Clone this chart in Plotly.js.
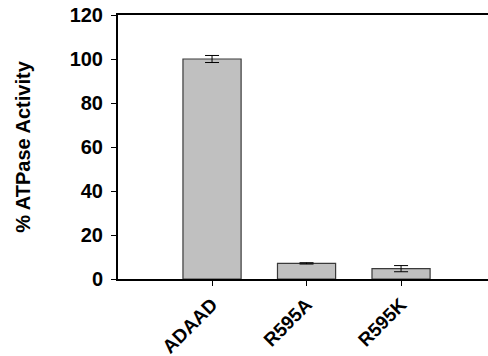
<!DOCTYPE html>
<html>
<head>
<meta charset="utf-8">
<script src="https://cdn.plot.ly/plotly-3.0.1.min.js"></script>
<style>html,body{margin:0;padding:0;background:#fff;}#chart{width:488px;height:356px;}</style>
</head>
<body>
<div id="chart"></div>
<script>
const categories = ["ADAAD", "R595A", "R595K"];
const activity = [100, 7.1, 4.7];
const activityErr = [1.6, 0.3, 1.4];
const yTicks = [0, 20, 40, 60, 80, 100, 120];

const trace = {
  type: "bar",
  x: [0, 1, 2],
  y: activity,
  width: 0.615,
  marker: {color: "#c0c0c0", line: {color: "#3a3a3a", width: 1.2}},
  error_y: {type: "data", array: activityErr, visible: true, color: "#000", thickness: 1, width: 7},
  hoverinfo: "none"
};

const layout = {
  width: 488, height: 356,
  margin: {l: 118, r: 0, t: 15, b: 77},
  paper_bgcolor: "#fff", plot_bgcolor: "#fff",
  showlegend: false,
  font: {family: "Liberation Sans, Arial, sans-serif", color: "#000"},
  xaxis: {
    range: [-0.995, 2.92],
    tickmode: "array", tickvals: [0, 1, 2], ticktext: categories,
    tickangle: -45,
    ticks: "outside", ticklen: 5, tickwidth: 1, tickcolor: "#000",
    showline: true, linecolor: "#000", linewidth: 2, mirror: true,
    showgrid: false, zeroline: false,
    tickfont: {size: 19, family: "Liberation Sans, Arial, sans-serif", weight: "bold", color: "#000"}
  },
  yaxis: {
    range: [0, 120],
    tickmode: "array", tickvals: yTicks,
    ticks: "outside", ticklen: 5, tickwidth: 1, tickcolor: "#000",
    showline: true, linecolor: "#000", linewidth: 2,
    showgrid: false, zeroline: false,
    ticklabelstandoff: 4,
    tickfont: {size: 20, family: "Liberation Sans, Arial, sans-serif", weight: "bold", color: "#000"},
    title: {text: "% ATPase Activity", standoff: 34,
      font: {size: 20, family: "Liberation Sans, Arial, sans-serif", weight: "bold", color: "#000"}}
  }
};

Plotly.newPlot("chart", [trace], layout, {displayModeBar: false, staticPlot: true});
</script>
</body>
</html>
